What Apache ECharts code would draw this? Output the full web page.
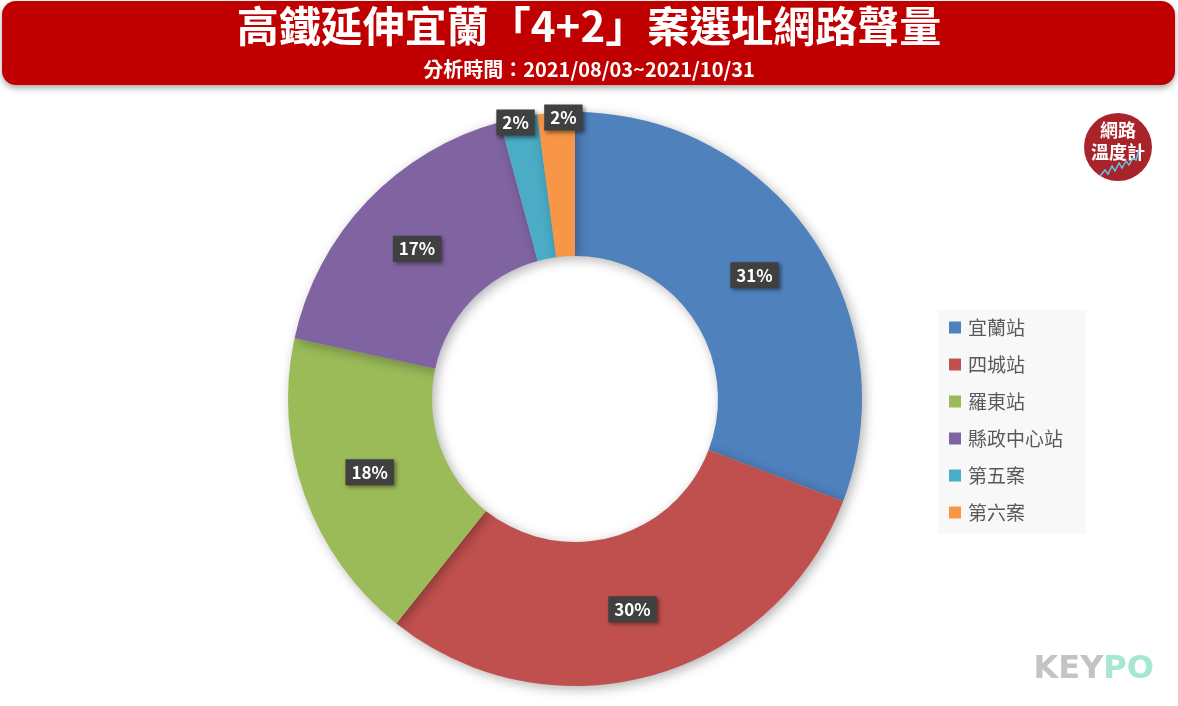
<!DOCTYPE html>
<html>
<head>
<meta charset="utf-8">
<script src="https://cdn.jsdelivr.net/npm/echarts@6/dist/echarts.min.js"></script>
<style>
html,body{margin:0;padding:0;background:#fff;}
#c{width:1178px;height:706px;}
</style>
</head>
<body>
<div id="c"></div>
<script>
const titleText = '高鐵延伸宜蘭「4+2」案選址網路聲量';
const subtitleText = '分析時間：2021/08/03~2021/10/31';
const categories = ['宜蘭站', '四城站', '羅東站', '縣政中心站', '第五案', '第六案'];
const shares = [30.8, 29.9, 17.7, 17.4, 2.1, 2.1];
const colors = ['#4F81BD', '#C0504D', '#9BBB59', '#8064A2', '#4BACC6', '#F79646'];

const font = '"Noto Sans CJK TC", "Noto Sans", sans-serif';
const cx = 575, cy = 399;

const chart = echarts.init(document.getElementById('c'), null, {renderer: 'canvas'});
chart.setOption({
  animation: false,
  color: colors,
  graphic: [
    {type: 'rect', z: 1, shape: {x: 2, y: 1, width: 1173, height: 84, r: 14},
     style: {fill: '#C00000', shadowBlur: 6, shadowOffsetY: 3, shadowColor: 'rgba(0,0,0,0.35)'}},
    {type: 'text', z: 2, left: 'center', top: 5,
     style: {text: titleText, fill: '#fff', font: 'bold 42px ' + font}},
    {type: 'text', z: 2, left: 'center', top: 59,
     style: {text: subtitleText, fill: '#fff', font: 'bold 20px ' + font}},
    {type: 'rect', z: 0, shape: {x: 938, y: 310, width: 148, height: 224},
     style: {fill: '#F8F8F8'}},
    {type: 'circle', z: 2, shape: {cx: 1118, cy: 147, r: 34}, style: {fill: '#A8242A'}},
    {type: 'text', z: 3, x: 1118, y: 130,
     style: {text: '網路', fill: '#fff', font: 'bold 18px ' + font, textAlign: 'center', textVerticalAlign: 'middle'}},
    {type: 'text', z: 3, x: 1118, y: 152,
     style: {text: '溫度計', fill: '#fff', font: 'bold 18px ' + font, textAlign: 'center', textVerticalAlign: 'middle'}},
    {type: 'polyline', z: 3, shape: {points: [[1100,176],[1105,170],[1108,174],[1112,166],[1115,171],[1119,163],[1122,168],[1126,161],[1129,165],[1133,158],[1136,160],[1139,150]]},
     style: {stroke: '#5BC8E8', lineWidth: 1.5, fill: null}},
    {type: 'text', z: 3, right: 24, top: 654,
     style: {rich: {k: {fill: '#C4C4C4', font: '900 32px "DejaVu Sans", sans-serif'}, p: {fill: '#A6E8CF', font: '900 32px "DejaVu Sans", sans-serif'}},
             text: '{k|KEY}{p|PO}'}}
  ],
  legend: {
    orient: 'vertical',
    left: 944,
    top: 313,
    itemWidth: 12,
    itemHeight: 12,
    itemGap: 18,
    icon: 'rect',
    textStyle: {fontFamily: font, fontSize: 19, color: '#595959', padding: [0, 0, 0, 2]},
    data: categories
  },
  series: [{
    type: 'pie',
    center: [cx, cy],
    radius: [143, 287],
    startAngle: 90,
    clockwise: true,
    avoidLabelOverlap: false,
    itemStyle: {shadowBlur: 12, shadowOffsetX: 3, shadowOffsetY: 3, shadowColor: 'rgba(0,0,0,0.3)'},
    emphasis: {disabled: true},
    label: {
      show: true,
      position: 'inside',
      formatter: p => Math.round(p.percent) + '%',
      color: '#fff',
      fontFamily: font,
      fontWeight: 'bold',
      fontSize: 17,
      backgroundColor: '#404040',
      padding: [5, 6, 4, 6],
      shadowBlur: 4,
      shadowOffsetX: 2,
      shadowOffsetY: 2,
      shadowColor: 'rgba(0,0,0,0.45)'
    },
    labelLine: {show: false},
    labelLayout: function (params) {
      if (params.dataIndex >= 4) {
        const r = params.labelRect;
        const lx = r.x + r.width / 2, ly = r.y + r.height / 2;
        const dx = lx - cx, dy = ly - cy;
        const d = Math.sqrt(dx * dx + dy * dy);
        const shift = 64;
        return {dx: dx / d * shift - (params.dataIndex === 4 ? 4 : -7), dy: dy / d * shift};
      }
      return {};
    },
    data: categories.map((n, i) => ({name: n, value: shares[i]}))
  }]
});
</script>
</body>
</html>
